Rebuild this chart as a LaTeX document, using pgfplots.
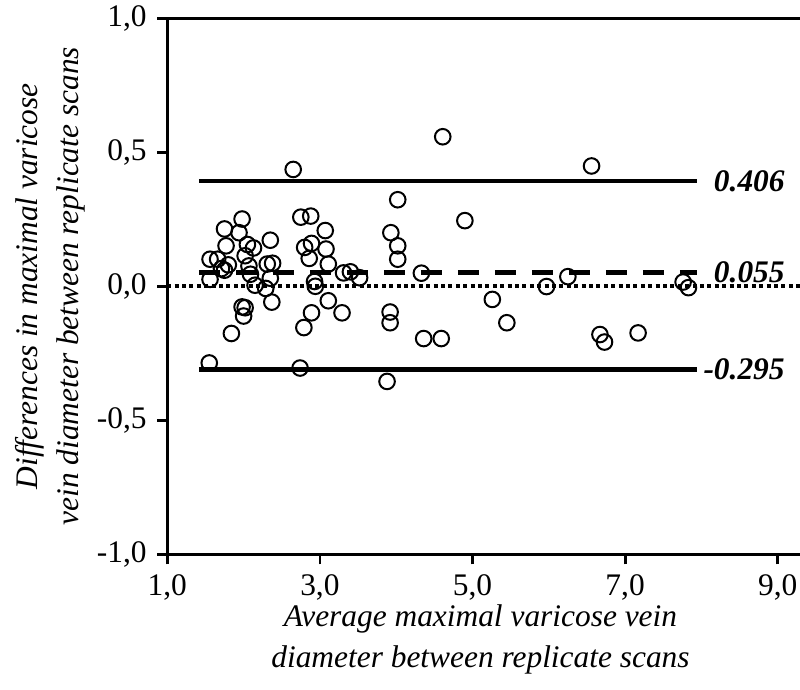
\documentclass[border=0pt]{standalone}
\usepackage{fontspec}
\setmainfont{Liberation Serif}
\usepackage{pgfplots}
\pgfplotsset{compat=1.18}

\begin{document}
\fontsize{15.5}{20.5}\selectfont
\begin{tikzpicture}
\begin{axis}[
  name=ax, scale only axis, width=316.35pt, height=268pt,
  xmin=1, xmax=9.292, ymin=-1, ymax=1,
  axis x line*=bottom, axis y line*=left,
  axis line style={line width=1.4pt, black},
  xtick={1,3,5,7,9}, ytick={-1,-0.5,0,0.5,1},
  tick align=outside, major tick length=5pt,
  tick style={line width=1.4pt, black},
  minor tick num=0,
  ticklabel style={font=\fontsize{15.7}{18}\selectfont},
  scaled ticks=false,
  clip=false,
  xlabel={Average maximal varicose vein\\diameter between replicate scans},
  ylabel={Differences in maximal varicose\\vein diameter between replicate scans},
  xlabel style={align=center, font=\fontsize{15.7}{20.5}\selectfont\itshape, at={(axis description cs:0.495,0)}, anchor=center, yshift=-42.5pt},
  ylabel style={align=center, font=\fontsize{15.7}{20.5}\selectfont\itshape, at={(axis description cs:-0.1849,0.5)}, anchor=center},
  /pgf/number format/.cd, fixed, fixed zerofill, precision=1, use comma, assume math mode=true
]
\coordinate (bl) at (rel axis cs:0,0);
\draw[line width=1.4pt] (rel axis cs:0,1) -- (rel axis cs:1,1);

\addplot[black, line width=2.4pt] coordinates {(1.415,0.393) (7.94,0.393)};
\addplot[black, line width=2.4pt] coordinates {(1.415,-0.309) (7.94,-0.309)};
\addplot[black, line width=2.4pt, dash pattern=on 10.5pt off 8pt] coordinates {(1.415,0.051) (7.94,0.051)};
\addplot[black, line width=1.8pt, dash pattern=on 2pt off 1.7pt] coordinates {(1,0) (9.292,0)};

\addplot[only marks, mark=o, mark size=3.9pt, mark options={line width=1pt, black}] table {
x y
1.55 -0.286
1.56 0.101
1.66 0.101
1.56 0.026
1.71 0.066
1.75 0.060
1.80 0.080
1.75 0.214
1.77 0.151
1.94 0.200
1.98 0.251
2.05 0.156
2.13 0.143
2.02 0.114
2.07 0.076
2.09 0.045
2.15 0.004
2.29 -0.008
2.35 0.172
2.31 0.083
2.38 0.086
2.35 0.030
2.37 -0.059
1.98 -0.077
2.02 -0.080
2.00 -0.111
1.84 -0.176
2.65 0.436
2.74 -0.305
2.75 0.258
2.88 0.262
3.07 0.208
2.89 0.160
2.80 0.145
3.08 0.139
2.86 0.104
3.11 0.083
2.93 0.018
2.94 0.000
3.11 -0.054
2.89 -0.099
3.29 -0.099
2.79 -0.154
3.31 0.050
3.40 0.054
3.52 0.032
3.88 -0.355
3.93 0.200
4.02 0.151
4.02 0.101
4.02 0.323
4.33 0.049
3.92 -0.096
3.92 -0.136
4.36 -0.195
4.59 -0.195
4.61 0.558
4.90 0.245
5.26 -0.049
5.45 -0.136
5.97 -0.001
6.25 0.036
6.56 0.449
6.67 -0.180
6.73 -0.208
7.17 -0.174
7.76 0.016
7.83 -0.005
};

\node[anchor=east, inner sep=0pt, font=\fontsize{15.7}{18}\selectfont\bfseries\itshape] at (axis cs:9.096,0.393) {0.406};
\node[anchor=east, inner sep=0pt, font=\fontsize{15.7}{18}\selectfont\bfseries\itshape] at (axis cs:9.096,0.051) {0.055};
\node[anchor=east, inner sep=0pt, font=\fontsize{15.7}{18}\selectfont\bfseries\itshape] at (axis cs:9.096,-0.309) {-0.295};
\end{axis}
\pgfresetboundingbox
\path (bl) ++(-83.65pt,-67.85pt) rectangle ++(400pt,345pt);
\end{tikzpicture}
\end{document}
